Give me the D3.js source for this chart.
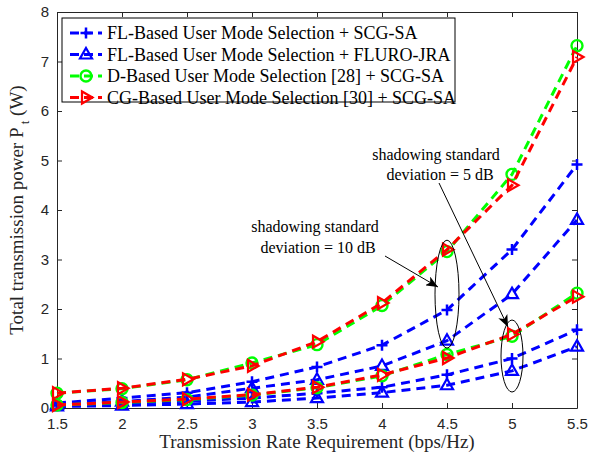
<!DOCTYPE html>
<html>
<head>
<meta charset="utf-8">
<script src="https://cdn.jsdelivr.net/npm/d3@7"></script>
<style>
  body { margin: 0; background: #fff; }
  svg { display: block; }
</style>
</head>
<body>
<div id="chart"></div>
<script>
// data
const rates = [1.5, 2, 2.5, 3, 3.5, 4, 4.5, 5, 5.5]

// shadowing std = 10 dB
const flScg10  = [0.10, 0.20, 0.31, 0.53, 0.83, 1.27, 1.98, 3.20, 4.92]
const flFluro10 = [0.07, 0.13, 0.22, 0.40, 0.57, 0.85, 1.36, 2.30, 3.80]
const dScg10   = [0.30, 0.39, 0.57, 0.91, 1.28, 2.07, 3.16, 4.72, 7.32]
const cgScg10  = [0.30, 0.40, 0.58, 0.85, 1.34, 2.12, 3.20, 4.50, 7.09]

// shadowing std = 5 dB
const flScg5   = [0.05, 0.09, 0.14, 0.20, 0.30, 0.42, 0.67, 1.00, 1.58]
const flFluro5 = [0.03, 0.05, 0.08, 0.12, 0.20, 0.31, 0.46, 0.75, 1.24]
const dScg5    = [0.06, 0.11, 0.17, 0.26, 0.41, 0.65, 1.08, 1.45, 2.32]
const cgScg5   = [0.06, 0.12, 0.18, 0.27, 0.42, 0.67, 1.01, 1.49, 2.25]

const xTicks = [1.5, 2, 2.5, 3, 3.5, 4, 4.5, 5, 5.5]
const yTicks = [0, 1, 2, 3, 4, 5, 6, 7, 8]

const legendLabels = [
  "FL-Based User Mode Selection + SCG-SA",
  "FL-Based User Mode Selection + FLURO-JRA",
  "D-Based User Mode Selection [28] + SCG-SA",
  "CG-Based User Mode Selection [30] + SCG-SA"
]

const series = [
  { values: flScg10, color: "#0000ff", marker: "plus", leg: 0 },
  { values: flFluro10, color: "#0000ff", marker: "tri", leg: 1 },
  { values: dScg10, color: "#00ff00", marker: "circle", leg: 2 },
  { values: cgScg10, color: "#ff0000", marker: "triR", leg: 3 },
  { values: flScg5, color: "#0000ff", marker: "plus" },
  { values: flFluro5, color: "#0000ff", marker: "tri" },
  { values: dScg5, color: "#00ff00", marker: "circle" },
  { values: cgScg5, color: "#ff0000", marker: "triR" }
]

const W = 589, H = 460
const margin = { top: 12, right: 12, bottom: 52, left: 57 }
const w = W - margin.left - margin.right
const h = H - margin.top - margin.bottom

const svg = d3.select("#chart").append("svg")
  .attr("width", W).attr("height", H)

const g = svg.append("g")
  .attr("transform", `translate(${margin.left},${margin.top})`)

const x = d3.scaleLinear().domain([1.5, 5.5]).range([0, w])
const y = d3.scaleLinear().domain([0, 8]).range([h, 0])

const axisColor = "#262626"
const tickFont = "'Liberation Sans', Arial, sans-serif"
const serif = "'Liberation Serif', 'Times New Roman', serif"

// axes (MATLAB style box with inward ticks)
const styleAxis = (sel) => {
  sel.select(".domain").attr("stroke", axisColor)
  sel.selectAll(".tick line").attr("stroke", axisColor)
  sel.selectAll(".tick text").attr("fill", axisColor)
    .style("font-family", tickFont).style("font-size", "15px")
}

g.append("g").attr("transform", `translate(0,${h})`)
  .call(d3.axisBottom(x).tickValues(xTicks).tickSize(-5).tickSizeOuter(0).tickPadding(10)
    .tickFormat(d3.format("")))
  .call(styleAxis)

g.append("g")
  .call(d3.axisLeft(y).tickValues(yTicks).tickSize(-5).tickSizeOuter(0).tickPadding(8))
  .call(styleAxis)

g.append("g")
  .call(d3.axisTop(x).tickValues(xTicks).tickSize(-5).tickSizeOuter(0).tickFormat(""))
  .call(styleAxis)

g.append("g").attr("transform", `translate(${w},0)`)
  .call(d3.axisRight(y).tickValues(yTicks).tickSize(-5).tickSizeOuter(0).tickFormat(""))
  .call(styleAxis)

// marker drawing
const drawMarker = (sel, type, color) => {
  if (type === "plus") {
    sel.append("path").attr("d", "M-5.5,0H5.5M0,-5.5V5.5")
      .attr("stroke", color).attr("stroke-width", 2.5).attr("fill", "none")
  } else if (type === "tri") {
    sel.append("path").attr("d", "M0,-6.5L6,4L-6,4Z")
      .attr("stroke", color).attr("stroke-width", 2.2).attr("fill", "none")
  } else if (type === "triR") {
    sel.append("path").attr("d", "M6.5,0L-4,-6L-4,6Z")
      .attr("stroke", color).attr("stroke-width", 2.2).attr("fill", "none")
  } else {
    sel.append("circle").attr("r", 5.5)
      .attr("stroke", color).attr("stroke-width", 2.4).attr("fill", "none")
  }
}

const line = d3.line().x((d, i) => x(rates[i])).y(d => y(d))

series.forEach(s => {
  g.append("path")
    .datum(s.values)
    .attr("d", line)
    .attr("fill", "none")
    .attr("stroke", s.color)
    .attr("stroke-width", 3)
    .attr("stroke-dasharray", "9,6")
  s.values.forEach((v, i) => {
    const m = g.append("g").attr("transform", `translate(${x(rates[i])},${y(v)})`)
    drawMarker(m, s.marker, s.color)
  })
})

// ellipses + annotations
g.append("ellipse")
  .attr("cx", x(4.5)).attr("cy", y(2.3)).attr("rx", 12).attr("ry", 54)
  .attr("fill", "none").attr("stroke", "#000").attr("stroke-width", 1)
g.append("ellipse")
  .attr("cx", x(5)).attr("cy", y(1.05)).attr("rx", 11).attr("ry", 36)
  .attr("fill", "none").attr("stroke", "#000").attr("stroke-width", 1)

svg.append("defs").append("marker")
  .attr("id", "arrow").attr("viewBox", "0 -5 12 10")
  .attr("refX", 12).attr("refY", 0)
  .attr("markerWidth", 12).attr("markerHeight", 10)
  .attr("markerUnits", "userSpaceOnUse")
  .attr("orient", "auto")
  .append("path").attr("d", "M0,-5L12,0L0,5L3,0Z").attr("fill", "#000")

svg.append("line")
  .attr("x1", 385).attr("y1", 256).attr("x2", 438).attr("y2", 287)
  .attr("stroke", "#000").attr("stroke-width", 1).attr("marker-end", "url(#arrow)")
svg.append("line")
  .attr("x1", 439).attr("y1", 183).attr("x2", 508).attr("y2", 327)
  .attr("stroke", "#000").attr("stroke-width", 1).attr("marker-end", "url(#arrow)")

const annot = [
  { text: "shadowing standard", x: 315, y: 232 },
  { text: "deviation = 10 dB", x: 318, y: 253 },
  { text: "shadowing standard", x: 436, y: 160 },
  { text: "deviation = 5 dB", x: 440, y: 180 }
]
svg.selectAll(".annot").data(annot).enter().append("text")
  .attr("x", d => d.x).attr("y", d => d.y)
  .attr("text-anchor", "middle")
  .style("font-family", serif).style("font-size", "16px")
  .text(d => d.text)

// axis labels
svg.append("text")
  .attr("x", margin.left + w / 2).attr("y", 448)
  .attr("text-anchor", "middle")
  .style("font-family", serif).style("font-size", "19px").attr("fill", axisColor)
  .text("Transmission Rate Requirement (bps/Hz)")

const yl = svg.append("text")
  .attr("transform", `translate(23,${margin.top + h / 2}) rotate(-90)`)
  .attr("text-anchor", "middle")
  .style("font-family", serif).style("font-size", "19px").attr("fill", axisColor)
yl.append("tspan").text("Total transmission power P")
yl.append("tspan").attr("dy", 6).style("font-size", "13px").text(" t")
yl.append("tspan").attr("dy", -6).text(" (W)")

// legend
const leg = svg.append("g").attr("transform", "translate(62,18)")
leg.append("rect").attr("width", 393).attr("height", 84)
  .attr("fill", "#fff").attr("stroke", "#000").attr("stroke-width", 1)
series.filter(s => s.leg !== undefined).forEach(s => {
  const row = leg.append("g").attr("transform", `translate(0,${15 + s.leg * 21.5})`)
  row.append("line").attr("x1", 8).attr("x2", 40).attr("y1", 0).attr("y2", 0)
    .attr("stroke", s.color).attr("stroke-width", 3).attr("stroke-dasharray", "9,5")
  const m = row.append("g").attr("transform", "translate(24,0)")
  drawMarker(m, s.marker, s.color)
  row.append("text").attr("x", 45).attr("y", 6)
    .style("font-family", serif).style("font-size", "18px")
    .text(legendLabels[s.leg])
})
</script>
</body>
</html>
